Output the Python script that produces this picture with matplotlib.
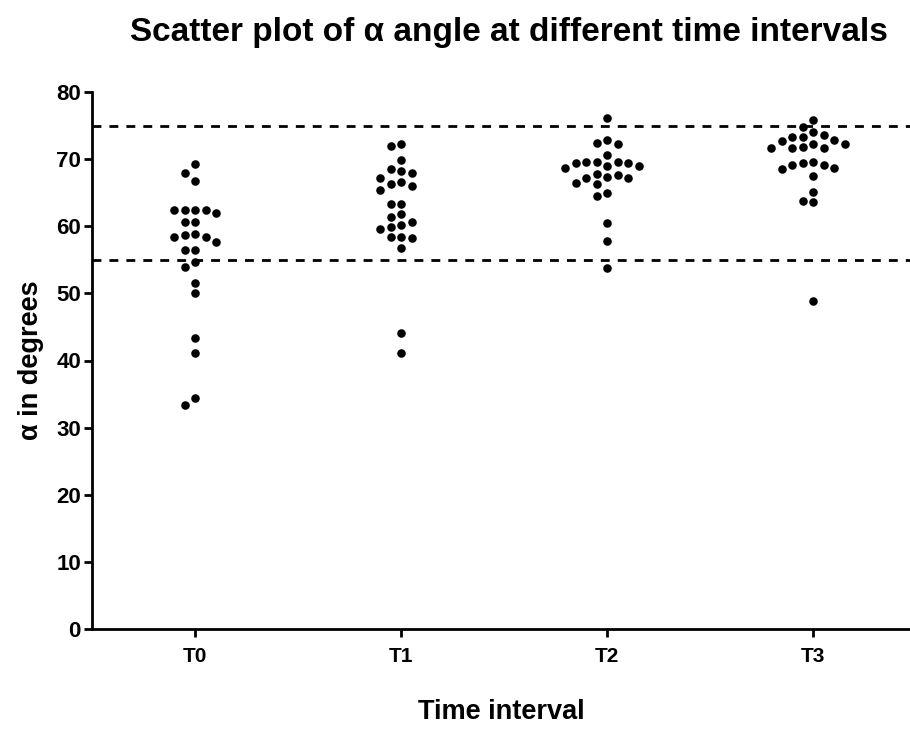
import matplotlib
matplotlib.use('Agg')
import matplotlib.pyplot as plt
import numpy as np

plt.rcParams['font.family'] = ['Liberation Sans', 'DejaVu Sans']

categories = ['T0', 'T1', 'T2', 'T3']
t0_values = [69.3, 67.9, 66.8, 62.4, 62.4, 62.0, 62.4, 62.4, 60.7, 60.7,
             58.4, 58.4, 58.9, 57.6, 58.7, 56.5, 56.5, 54.7, 54.0, 51.6,
             50.1, 43.4, 41.1, 34.4, 33.4]
t1_values = [72.3, 71.9, 69.8, 68.6, 68.0, 68.3, 67.2, 66.3, 65.4, 66.0,
             66.6, 63.3, 63.3, 61.8, 61.4, 60.7, 59.9, 60.2, 59.6, 58.4,
             58.3, 58.4, 56.8, 44.1, 41.1]
t2_values = [76.2, 72.4, 72.3, 72.9, 70.6, 69.6, 69.4, 69.6, 69.0, 68.7,
             69.0, 69.4, 69.6, 67.8, 67.4, 67.2, 66.3, 66.5, 67.2, 67.7,
             65.0, 64.5, 60.5, 57.8, 53.8]
t3_values = [75.9, 74.8, 74.1, 73.3, 73.3, 73.6, 72.7, 72.3, 71.7, 71.7,
             71.7, 71.8, 72.3, 72.9, 69.6, 69.1, 68.5, 69.1, 69.4, 68.7,
             67.5, 65.1, 63.8, 63.6, 48.9]
series = [t0_values, t1_values, t2_values, t3_values]
reference_lines = [55, 75]
yticks = list(range(0, 81, 10))

W, H = 910, 729
fig = plt.figure(figsize=(W / 100, H / 100), dpi=100)
ax = fig.add_axes([92 / W, 100 / H, (W - 92) / W, (629 - 92) / H])
ax.set_xlim(-0.5, 3.47)
ax.set_ylim(0, 80)

# beeswarm layout in pixel space
col_px = 10.5
min_dy_px = 9.5
px_per_x = ax.transData.transform((1, 0))[0] - ax.transData.transform((0, 0))[0]
px_per_y = ax.transData.transform((0, 1))[1] - ax.transData.transform((0, 0))[1]


def swarm_x(vals, center):
    order = np.argsort(vals)[::-1]
    placed = {}
    xs = np.zeros(len(vals))
    cand = [0]
    for k in range(1, 20):
        cand += [-k, k]
    for i in order:
        y = vals[i] * px_per_y
        for k in cand:
            ok = all(abs(y - yy) >= min_dy_px for yy in placed.get(k, []))
            if ok:
                placed.setdefault(k, []).append(y)
                xs[i] = center + k * col_px / px_per_x
                break
    return xs


for i, vals in enumerate(series):
    xs = swarm_x(np.array(vals), i)
    ax.scatter(xs, vals, s=38, marker='o', color='black', linewidths=0, zorder=3)

for y in reference_lines:
    ax.axhline(y, color='black', lw=2, dashes=(3.2, 2.9), zorder=2)

ax.set_xticks(range(len(categories)))
ax.set_xticklabels(categories, fontweight='bold', fontsize=15)
ax.set_yticks(yticks)
ax.set_yticklabels([str(t) for t in yticks], fontweight='bold', fontsize=16)

for s in ['top', 'right']:
    ax.spines[s].set_visible(False)
for s in ['left', 'bottom']:
    ax.spines[s].set_linewidth(2)
ax.tick_params(axis='both', width=2, length=6, color='black')
ax.tick_params(axis='y', pad=2)
ax.tick_params(axis='x', pad=7)

ax.set_xlabel('Time interval', fontsize=19.5, fontweight='bold', labelpad=24)
ax.set_ylabel('α in degrees', fontsize=19.5, fontweight='bold', labelpad=9)

fig.text(0.559, 0.955, 'Scatter plot of α angle at different time intervals',
         ha='center', va='center', fontsize=24, fontweight='bold')

fig.savefig('out.png', dpi=100)
